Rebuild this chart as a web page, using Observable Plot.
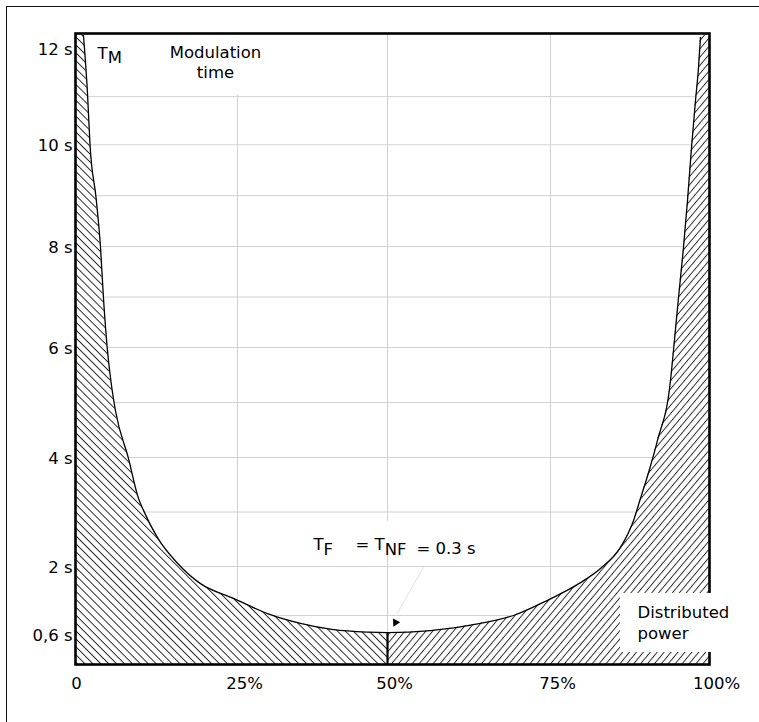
<!DOCTYPE html>
<html><head><meta charset="utf-8">
<script src="https://cdn.jsdelivr.net/npm/d3@7"></script>
<script src="https://cdn.jsdelivr.net/npm/@observablehq/plot@0.6"></script>
<style>
html,body{margin:0;padding:0;background:#fff;overflow:hidden}
#wrap{position:relative;width:759px;height:722px;overflow:hidden;background:#fff}
#outer{position:absolute;left:6px;top:6px;width:800px;height:800px;border:1.3px solid #111;pointer-events:none}
</style></head><body>
<div id="wrap"><div id="outer"></div></div>
<script>
// Modulation time (s) vs distributed power (%)
const leftX  = [1.23, 1.85, 2.24, 3.19, 3.86, 4.32, 4.89, 5.51, 6.17, 8.18, 9.72, 10.49, 12.65, 15.74, 19.29, 24.38, 30.0, 35.5, 41.0, 46.67, 50];
const leftY  = [12.27, 11.07, 10.0, 8.94, 7.98, 6.97, 6.0, 5.35, 4.85, 3.98, 3.25, 3.03, 2.53, 2.06, 1.65, 1.35, 1.04, 0.84, 0.71, 0.66, 0.65];
const rightX = [50, 56.6, 64.26, 69.33, 74.54, 79.72, 82.86, 86.0, 88.05, 89.15, 90.41, 91.82, 93.87, 94.34, 95.13, 95.91, 96.54, 97.17, 97.8, 98.27, 98.58];
const rightY = [0.65, 0.69, 0.84, 1.0, 1.31, 1.67, 1.96, 2.35, 2.84, 3.25, 3.72, 4.31, 5.4, 5.95, 6.99, 7.98, 8.9, 9.94, 10.92, 11.6, 12.23];

const yTicks = [0.6, 2, 4, 6, 8, 10, 12];
const yTickLabels = ["0,6 s", "2 s", "4 s", "6 s", "8 s", "10 s", "12 s"];
const xTicks = [25, 50, 75, 100];
const xTickLabels = ["25%", "50%", "75%", "100%"];
const xZeroLabel = ["0"];
const gridYValues = [1, 2, 3, 4, 5, 6, 7, 8, 9, 10, 11];
const gridXValues = [25, 50, 75];
const yTop = 12.31;

// annotations (data units)
const subNotes = [
  {x: 3.4, y: 11.79, parts: [["T", 0, 0], ["M", 4, 0]]},
  {x: 37.67, y: 2.31, parts: [["T", 0, 0], ["F", 5, 0], ["= T", 0, 22.4], ["NF", 5, 0], ["= 0.3 s", 4, 10]]}
];
const modNote = [{x: 21.6, y: 11.38, t: "Modulation\ntime"}];
const powerNote = [{x: 88.68, y: 0.53, t: "Distributed\npower"}];
const whiteBoxes = [
  {x1: 13.1, x2: 30.5, y1: 11.03, y2: yTop},
  {x1: 35.5, x2: 64.3, y1: 2.2, y2: 2.83}
];
const powerBox = [{x1: 86.0, x2: 105.7, y1: 0.245, y2: 1.45}];
const leader = [{x1: 55.5, y1: 1.98, x2: 51.5, y2: 1.04}];
const arrowHead = [{x: 51.23, y: 0.857}];

const left = leftX.map((x, i) => ({x, y: leftY[i]}));
const right = rightX.map((x, i) => ({x, y: rightY[i]}));
const leftArea = [{x: 0, y: yTop}, ...left];
const rightArea = [...right, {x: 100, y: yTop}];
const curveData = [...left, ...right.slice(1)];
const mid = [left[left.length - 1]];

const fs = 16.5;
const chart = Plot.plot({
  width: 759, height: 722,
  marginLeft: 75, marginRight: 50, marginTop: 33, marginBottom: 58,
  style: {fontFamily: "DejaVu Sans, sans-serif", fontSize: fs + "px", color: "#000", background: "transparent"},
  x: {type: "linear", domain: [0, 25, 50, 75, 100], range: [75, 237, 387, 550, 709], label: null},
  y: {type: "linear", domain: [0, 2, 4, 6, 8, 10, 12, yTop], range: [664, 566, 457, 347, 246, 144.3, 48, 33], label: null},
  marks: [
    Plot.gridY(gridYValues, {stroke: "#d2d2d2", strokeOpacity: 1, strokeWidth: 1}),
    Plot.gridX(gridXValues, {stroke: "#d2d2d2", strokeOpacity: 1, strokeWidth: 1}),
    Plot.rect(whiteBoxes, {x1: "x1", x2: "x2", y1: "y1", y2: "y2", fill: "white"}),
    Plot.areaY(leftArea, {x: "x", y1: 0, y2: "y", fill: "url(#hatchL)", curve: "monotone-x"}),
    Plot.areaY(rightArea, {x: "x", y1: 0, y2: "y", fill: "url(#hatchR)", curve: "monotone-x"}),
    Plot.line(curveData, {x: "x", y: "y", stroke: "#000", strokeWidth: 1.3, curve: "monotone-x"}),
    Plot.ruleX(mid, {x: "x", y1: 0, y2: "y", stroke: "#000", strokeWidth: 2.2}),
    Plot.frame({stroke: "#000", strokeWidth: 2.6}),
    Plot.rect(powerBox, {x1: "x1", x2: "x2", y1: "y1", y2: "y2", fill: "white"}),
    Plot.link(leader, {x1: "x1", y1: "y1", x2: "x2", y2: "y2", stroke: "#e2e2e2", strokeWidth: 1}),
    Plot.dot(arrowHead, {x: "x", y: "y", symbol: "triangle", r: 3, fill: "#000", rotate: 208}),
    Plot.axisY(yTicks, {tickSize: 0, tickPadding: 3, fontSize: fs, label: null, dy: 1,
      tickFormat: d => yTickLabels[yTicks.indexOf(d)]}),
    Plot.axisX(xTicks, {tickSize: 0, tickPadding: 13, dx: 7, fontSize: fs, label: null,
      tickFormat: d => xTickLabels[xTicks.indexOf(d)]}),
    Plot.axisX([0], {tickSize: 0, tickPadding: 13, dx: 1, fontSize: fs, label: null,
      tickFormat: () => xZeroLabel[0]}),
    Plot.text(modNote, {x: "x", y: "y", text: "t", textAnchor: "middle", lineAnchor: "bottom",
      lineHeight: 1.25, fontSize: fs, fill: "#000"}),
    Plot.text(powerNote, {x: "x", y: "y", text: "t", textAnchor: "start", lineAnchor: "bottom",
      lineHeight: 1.27, fontSize: fs, fill: "#000"}),
    Plot.text(subNotes, {x: "x", y: "y", text: d => d.parts.map(p => p[0]).join(""), textAnchor: "start",
      lineAnchor: "bottom", fontSize: fs, fill: "#000"})
  ]
});

// hatch patterns
const NS = "http://www.w3.org/2000/svg";
const defs = document.createElementNS(NS, "defs");
defs.innerHTML =
  '<pattern id="hatchL" patternUnits="userSpaceOnUse" width="10" height="5.6" patternTransform="rotate(45)">' +
  '<rect width="10" height="5.6" fill="white"/><line x1="0" y1="0.5" x2="10" y2="0.5" stroke="#000" stroke-width="0.85"/></pattern>' +
  '<pattern id="hatchR" patternUnits="userSpaceOnUse" width="10" height="5.3" patternTransform="rotate(-50)">' +
  '<rect width="10" height="5.3" fill="white"/><line x1="0" y1="0.5" x2="10" y2="0.5" stroke="#000" stroke-width="0.85"/></pattern>';
chart.insertBefore(defs, chart.firstChild);

// subscripts as tspans
chart.querySelectorAll("text").forEach(el => {
  const note = subNotes.find(n => n.parts.map(p => p[0]).join("") === el.textContent);
  if (!note) return;
  el.textContent = "";
  let prev = 0;
  note.parts.forEach(([t, shift, dx]) => {
    const ts = document.createElementNS(NS, "tspan");
    ts.textContent = t;
    if (shift - prev) ts.setAttribute("dy", shift - prev);
    if (dx) ts.setAttribute("dx", dx);
    prev = shift;
    el.appendChild(ts);
  });
});

document.getElementById("wrap").prepend(chart);
</script>
</body></html>
